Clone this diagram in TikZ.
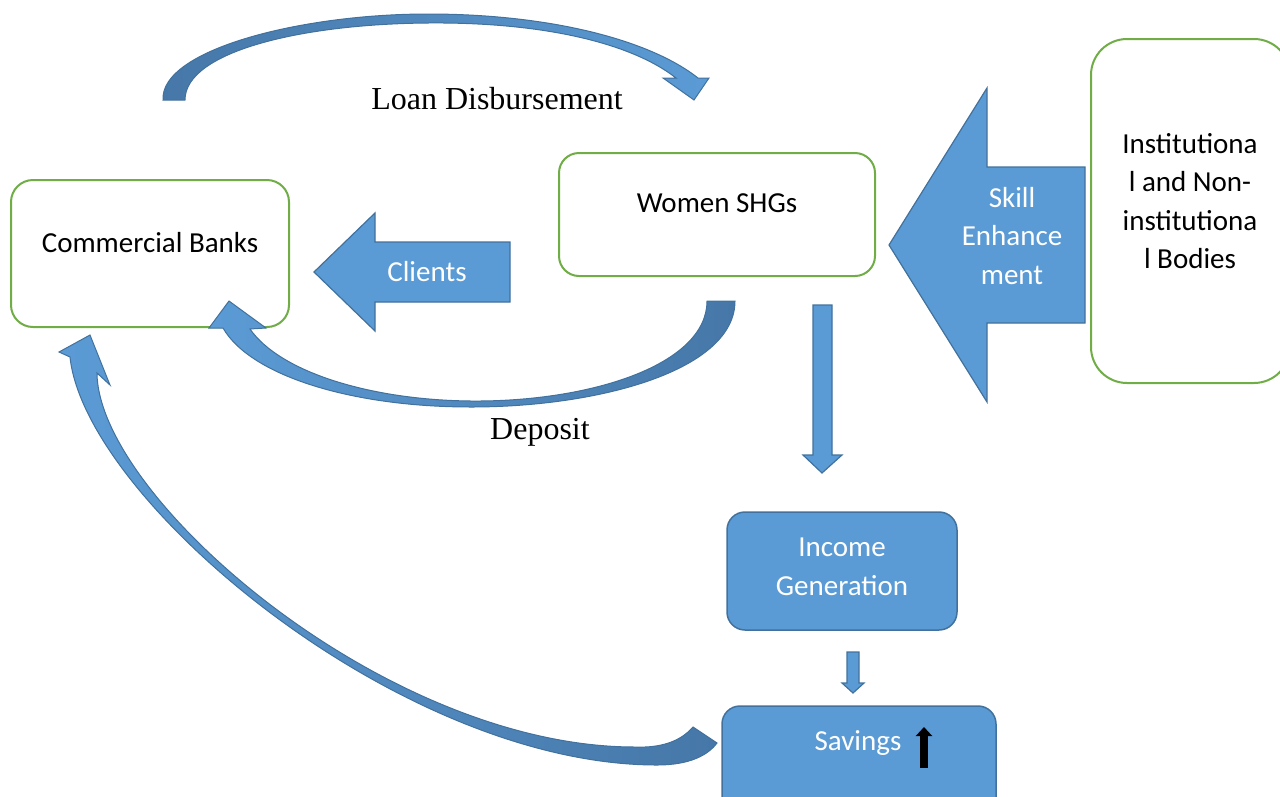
\documentclass[tikz,border=0pt]{standalone}
\usepackage{fontspec}
\usetikzlibrary{arrows.meta}
\setmainfont{Carlito}
\newfontfamily\timesf{Liberation Serif}
\definecolor{fillblue}{HTML}{5B9BD5}
\definecolor{edgeblue}{HTML}{41719C}
\definecolor{darkblue}{HTML}{4677A8}
\definecolor{boxgreen}{HTML}{70AD47}
\begin{document}
\begin{tikzpicture}[x=1pt,y=-1pt,
  greenbox/.style={draw=boxgreen,line width=2pt,fill=white,rounded corners=#1,inner sep=0pt},
  bluebox/.style={draw=edgeblue,line width=1.5pt,fill=fillblue,rounded corners=18pt,inner sep=0pt},
  blockarrow/.style={draw=edgeblue,line width=1.2pt,fill=fillblue,line join=miter},
  curvearrow/.style={draw=edgeblue,line width=1pt,line join=miter},
  uparrow/.style={draw=black,line width=8pt,-{Triangle[length=9pt,width=16pt]}},
  lbl/.style={font=\fontsize{29}{38.5}\selectfont,align=center,inner sep=0pt},
  wlbl/.style={lbl,text=white},
  serif/.style={font=\timesf\fontsize{32}{38}\selectfont,inner sep=0pt}]
\useasboundingbox (0,0) rectangle (1280,796);
\clip (0,0) rectangle (1280,796);

% boxes
\node[greenbox=22pt,minimum width=278pt,minimum height=147pt] (banks) at (150,253.5) {};
\node[greenbox=20pt,minimum width=316pt,minimum height=123pt] (shg) at (717,214.5) {};
\node[greenbox=36pt,minimum width=199pt,minimum height=344pt] (inst) at (1190.5,211) {};
\node[bluebox,minimum width=230pt,minimum height=118pt] (income) at (842,571) {};
\node[bluebox,minimum width=274pt,minimum height=130pt] (savings) at (859,771) {};

% block arrows
\draw[blockarrow] (314,272) -- (375,213) -- (375,242) -- (510,242) -- (510,302)
  -- (375,302) -- (375,331) -- cycle;
\draw[blockarrow] (889,245) -- (987,88) -- (987,167) -- (1085,167) -- (1085,323)
  -- (987,323) -- (987,402) -- cycle;
\draw[blockarrow] (813,305) -- (832,305) -- (832,455) -- (842,455) -- (822,473)
  -- (803,455) -- (813,455) -- cycle;
\draw[blockarrow] (847,652) -- (859,652) -- (859,683) -- (864,683) -- (853,693)
  -- (842,683) -- (847,683) -- cycle;

% curved arrow: loan disbursement
\path[curvearrow,left color=darkblue,right color=fillblue]
  (163,100) .. controls (160,50) and (300,14) .. (428,14)
  .. controls (550,14) and (650,40) .. (698,78)
  -- (709,78) -- (694,100) -- (663,78) -- (676,78)
  .. controls (630,42) and (540,22) .. (428,23)
  .. controls (300,24) and (185,52) .. (185,100) -- cycle;

% curved arrow: deposit
\path[curvearrow,left color=fillblue,middle color=fillblue,right color=darkblue]
  (735,301) .. controls (735,370) and (600,407) .. (471,407)
  .. controls (350,407) and (250,375) .. (223,328)
  -- (209,328) -- (229,301) -- (266,328) -- (250,329)
  .. controls (280,372) and (370,400) .. (471,401)
  .. controls (590,402) and (707,365) .. (707,301) -- cycle;

% curved arrow: savings to banks
\path[curvearrow,left color=fillblue,middle color=fillblue,right color=darkblue]
  (70,357) .. controls (85,500) and (400,765) .. (657,765)
  .. controls (690,765) and (708,755) .. (717,743)
  -- (693,727) .. controls (680,742) and (660,748) .. (635,747)
  .. controls (385,747) and (98,497) .. (97,373)
  -- (110,385) -- (90,335) -- (59,352) -- cycle;

% texts
\node[lbl] (banksT) at (150,243) {Commercial Banks};
\node[lbl] (shgT) at (717,203) {Women SHGs};
\node[lbl] (instT) at (1190,201) {Institutiona\\l and Non-\\institutiona\\l Bodies};
\node[wlbl] (clientsT) at (427,272) {Clients};
\node[wlbl] (skillT) at (1012,236) {Skill\\Enhance\\ment};
\node[wlbl] (incomeT) at (842,567) {Income\\Generation};
\node[wlbl] (savT) at (858,743) {Savings};
\coordinate (upBase) at (924,768);
\coordinate (upTip) at (924,727);
\draw[uparrow] (upBase) -- (upTip);
\node[serif] (loanT) at (497,99) {Loan Disbursement};
\node[serif] (depT) at (540,432) {Deposit};
\end{tikzpicture}
\end{document}
